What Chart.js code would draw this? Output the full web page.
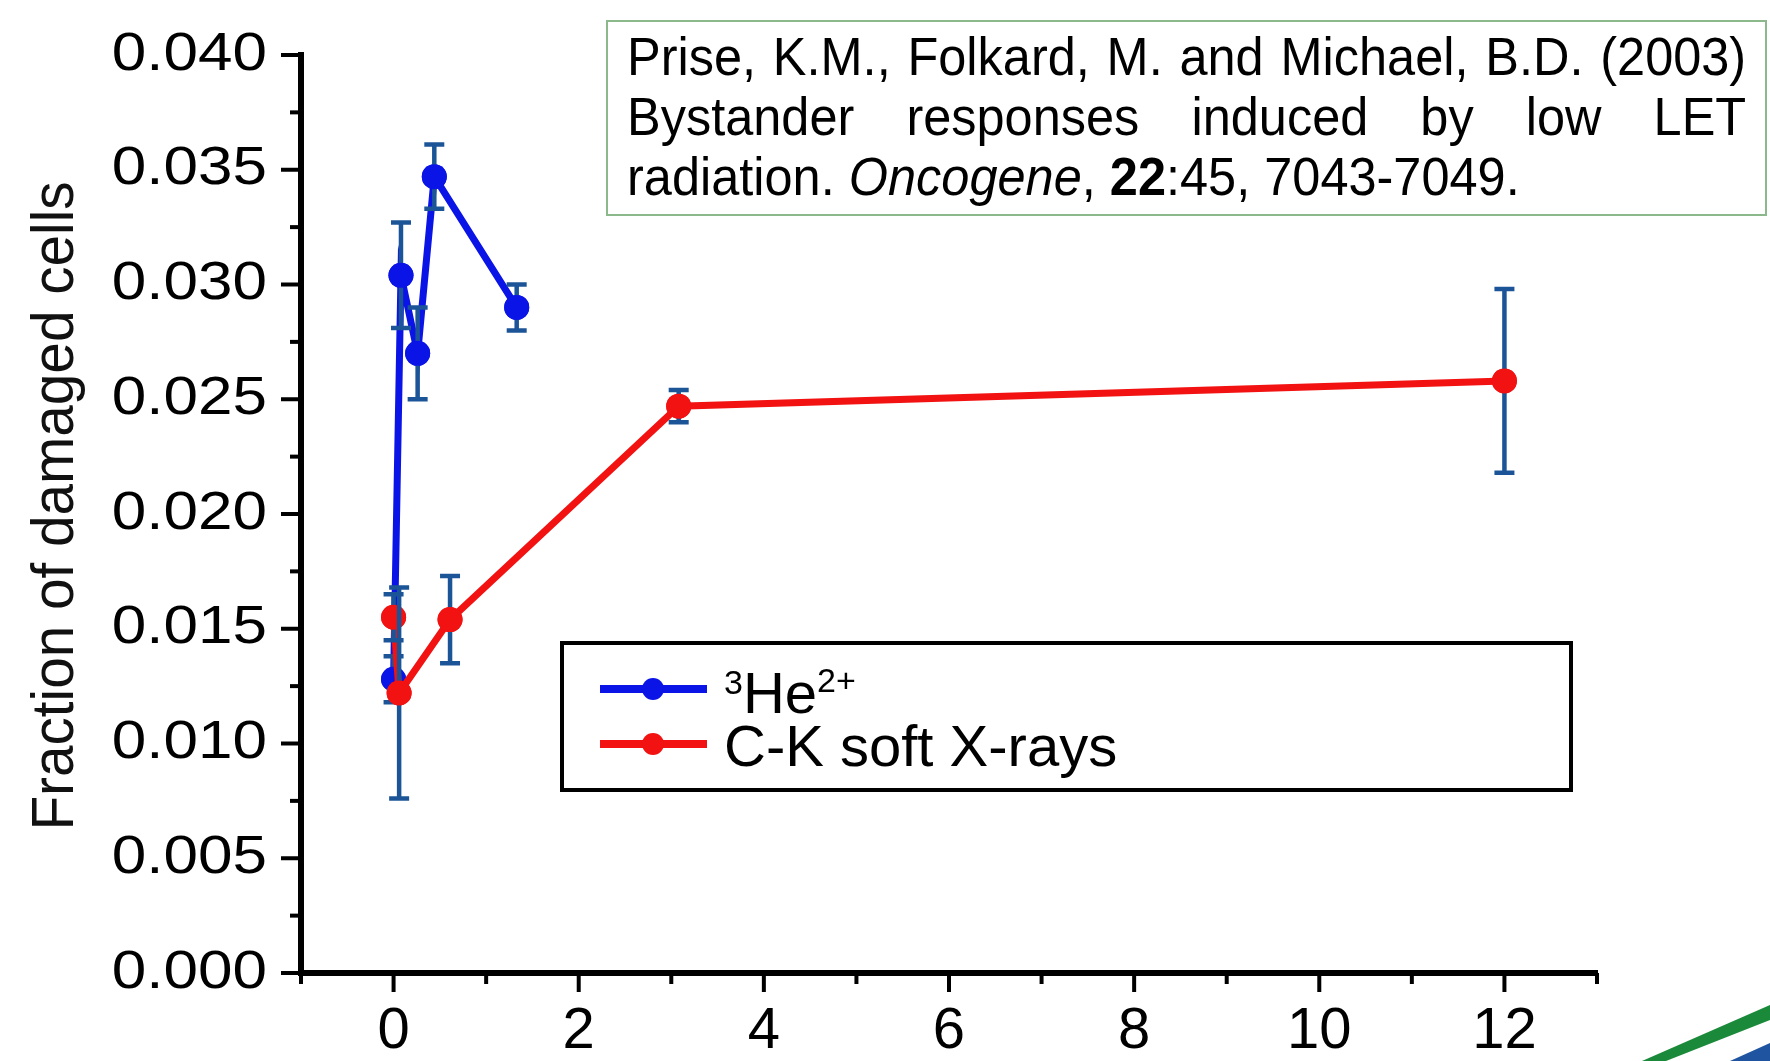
<!DOCTYPE html>
<html>
<head>
<meta charset="utf-8">
<title>Fraction of damaged cells</title>
<script src="https://cdn.jsdelivr.net/npm/chart.js@4.4.0/dist/chart.umd.min.js"></script>
<style>
  body { margin: 0; background: #fff; }
  #wrap { position: relative; width: 1770px; height: 1061px; overflow: hidden; }
  #cite {
    position: absolute; left: 606px; top: 20px; width: 1119px; height: 188px;
    border: 2px solid #8cb98c; padding: 4px 19px 0 19px; background: #fff;
    font-family: 'Liberation Sans', Arial, sans-serif; font-size: 54px; line-height: 60px; color: #000;
  }
  #cite div {
    width: 1197px; transform: scaleX(0.935); transform-origin: 0 0;
    text-align: justify; text-align-last: justify; white-space: nowrap;
  }
  #cite div.last { text-align-last: left; }
</style>
</head>
<body>
<div id="wrap">
  <canvas id="chart" width="1770" height="1061"></canvas>
  <div id="cite">
    <div>Prise, K.M., Folkard, M. and Michael, B.D. (2003)</div>
    <div>Bystander responses induced by low LET</div>
    <div class="last">radiation. <i>Oncogene</i>, <b>22</b>:45, 7043-7049.</div>
  </div>
</div>
<script>
// dose (x) and fraction of damaged cells (y), with +/- error
const heDose = [0, 0.08, 0.26, 0.44, 1.33];
const heFrac = [0.0128, 0.0304, 0.0270, 0.0347, 0.0290];
const heErr = [0.0010, 0.0023, 0.0020, 0.0014, 0.0010];

const xrayDose = [0, 0.06, 0.61, 3.08, 12.0];
const xrayFrac = [0.0155, 0.0122, 0.0154, 0.0247, 0.0258];
const xrayErr = [0.0010, 0.0046, 0.0019, 0.0007, 0.0040];

const xTicks = [0, 2, 4, 6, 8, 10, 12];
const yTicks = [0, 0.005, 0.010, 0.015, 0.020, 0.025, 0.030, 0.035, 0.040];
const yTitle = 'Fraction of damaged cells';

const BLUE = '#0a14e6';
const RED = '#f21212';
const ERR = '#1c5597';

Chart.defaults.font.family = "'Liberation Sans', Arial, sans-serif";
Chart.defaults.color = '#000';

function points(xs, ys) {
  return xs.map((x, i) => ({ x: x, y: ys[i] }));
}

// error bars drawn point by point, each marker redrawn over its own bar
const errorBars = {
  id: 'errorBars',
  afterDatasetDraw(chart, args) {
    const ds = chart.data.datasets[args.index];
    const ys = chart.scales.y;
    const ctx = chart.ctx;
    args.meta.data.forEach((pt, i) => {
      const v = ds.data[i].y, e = ds.errors[i];
      const lo = ys.getPixelForValue(v - e);
      const hi = ys.getPixelForValue(v + e);
      ctx.save();
      ctx.strokeStyle = ERR;
      ctx.lineWidth = 4.5;
      ctx.beginPath();
      ctx.moveTo(pt.x, lo); ctx.lineTo(pt.x, hi);
      ctx.moveTo(pt.x - 10, lo); ctx.lineTo(pt.x + 10, lo);
      ctx.moveTo(pt.x - 10, hi); ctx.lineTo(pt.x + 10, hi);
      ctx.stroke();
      ctx.restore();
      pt.draw(ctx, chart.chartArea);
    });
  }
};

// major / minor tick marks on both axes, plus the wide y tick labels
const tickMarks = {
  id: 'tickMarks',
  afterDraw(chart) {
    const ctx = chart.ctx;
    const area = chart.chartArea;
    const xs = chart.scales.x, ys = chart.scales.y;
    ctx.save();
    ctx.strokeStyle = '#000';
    ctx.lineWidth = 4;
    ys.ticks.forEach(t => {
      const py = ys.getPixelForValue(t.value);
      const len = t.label ? 20 : 11;
      ctx.beginPath(); ctx.moveTo(area.left - len, py); ctx.lineTo(area.left, py); ctx.stroke();
    });
    xs.ticks.forEach(t => {
      const px = xs.getPixelForValue(t.value);
      const len = t.label ? 19 : 11;
      ctx.beginPath(); ctx.moveTo(px, area.bottom); ctx.lineTo(px, area.bottom + len); ctx.stroke();
    });
    ctx.fillStyle = '#000';
    ctx.font = "53px 'Liberation Sans', Arial, sans-serif";
    ctx.textAlign = 'right';
    ctx.textBaseline = 'middle';
    ys.ticks.forEach(t => {
      if (!t.label) return;
      const py = ys.getPixelForValue(t.value);
      ctx.save();
      ctx.translate(area.left - 34, py);
      ctx.scale(1.17, 1);
      ctx.fillText(t.label, 0, 0);
      ctx.restore();
    });
    ctx.restore();
  }
};

// rotated y axis title, slightly condensed
const yAxisTitle = {
  id: 'yAxisTitle',
  afterDraw(chart) {
    const ctx = chart.ctx;
    ctx.save();
    ctx.translate(73, 506);
    ctx.rotate(-Math.PI / 2);
    ctx.scale(0.945, 1);
    ctx.font = "60px 'Liberation Sans', Arial, sans-serif";
    ctx.fillStyle = '#111';
    ctx.textAlign = 'center';
    ctx.textBaseline = 'alphabetic';
    ctx.fillText(yTitle, 0, 0);
    ctx.restore();
  }
};

// boxed legend inside the plot
const boxLegend = {
  id: 'boxLegend',
  afterDraw(chart) {
    const ctx = chart.ctx;
    ctx.save();
    ctx.fillStyle = '#fff';
    ctx.fillRect(562, 643, 1009, 147);
    ctx.strokeStyle = '#000';
    ctx.lineWidth = 4;
    ctx.strokeRect(562, 643, 1009, 147);
    const rows = [689, 744];
    chart.data.datasets.forEach((ds, i) => {
      const y = rows[i];
      ctx.strokeStyle = ds.borderColor;
      ctx.lineWidth = 8;
      ctx.beginPath(); ctx.moveTo(600, y); ctx.lineTo(707, y); ctx.stroke();
      ctx.fillStyle = ds.borderColor;
      ctx.beginPath(); ctx.arc(653, y, 11, 0, Math.PI * 2); ctx.fill();
    });
    ctx.fillStyle = '#000';
    ctx.textBaseline = 'alphabetic';
    ctx.textAlign = 'left';
    const big = "58px 'Liberation Sans', Arial, sans-serif";
    const small = "34px 'Liberation Sans', Arial, sans-serif";
    // 3He2+
    let x = 724;
    ctx.font = small; ctx.fillText('3', x, 694); x += ctx.measureText('3').width;
    ctx.font = big; ctx.fillText('He', x, 713); x += ctx.measureText('He').width;
    ctx.font = small; ctx.fillText('2+', x, 692);
    ctx.font = big; ctx.fillText(chart.data.datasets[1].label, 724, 766);
    ctx.restore();
  }
};

// slide corner stripes
const cornerStripes = {
  id: 'cornerStripes',
  afterDraw(chart) {
    const ctx = chart.ctx;
    ctx.save();
    ctx.fillStyle = '#1a8a3a';
    ctx.beginPath();
    ctx.moveTo(1642, 1061); ctx.lineTo(1770, 1005); ctx.lineTo(1770, 1020); ctx.lineTo(1666, 1061);
    ctx.closePath(); ctx.fill();
    ctx.fillStyle = '#1f55a0';
    ctx.beginPath();
    ctx.moveTo(1730, 1061); ctx.lineTo(1770, 1043); ctx.lineTo(1770, 1061);
    ctx.closePath(); ctx.fill();
    ctx.restore();
  }
};

new Chart(document.getElementById('chart'), {
  type: 'scatter',
  data: {
    datasets: [
      {
        label: '³He²⁺',
        data: points(heDose, heFrac),
        errors: heErr,
        showLine: true,
        borderColor: BLUE,
        backgroundColor: BLUE,
        borderWidth: 7,
        pointRadius: 12.5,
        pointBorderWidth: 0,
        pointBackgroundColor: BLUE,
        order: 2
      },
      {
        label: 'C-K soft X-rays',
        data: points(xrayDose, xrayFrac),
        errors: xrayErr,
        showLine: true,
        borderColor: RED,
        backgroundColor: RED,
        borderWidth: 7,
        pointRadius: 12.5,
        pointBorderWidth: 0,
        pointBackgroundColor: RED,
        order: 1
      }
    ]
  },
  options: {
    responsive: false,
    animation: false,
    layout: { padding: { left: 0, top: 55, right: 173, bottom: 0 } },
    plugins: {
      legend: { display: false },
      tooltip: { enabled: false }
    },
    scales: {
      x: {
        type: 'linear',
        min: -1,
        max: 13,
        border: { display: true, color: '#000', width: 6 },
        grid: { display: true, drawOnChartArea: false, drawTicks: false },
        ticks: {
          stepSize: 1,
          autoSkip: false,
          maxRotation: 0,
          padding: 24,
          font: { size: 58 },
          callback: v => xTicks.includes(v) ? String(v) : ''
        },
        afterFit: s => { s.height = 88; }
      },
      y: {
        min: 0,
        max: 0.04,
        border: { display: true, color: '#000', width: 6 },
        grid: { display: true, drawOnChartArea: false, drawTicks: false },
        ticks: {
          stepSize: 0.0025,
          autoSkip: false,
          padding: 0,
          color: 'rgba(0,0,0,0)', // labels are drawn wider by tickMarks
          font: { size: 53 },
          callback: v => yTicks.some(t => Math.abs(t - v) < 1e-7) ? v.toFixed(3) : ''
        },
        afterFit: s => { s.width = 301; }
      }
    }
  },
  plugins: [errorBars, tickMarks, yAxisTitle, boxLegend, cornerStripes]
});
</script>
</body>
</html>
